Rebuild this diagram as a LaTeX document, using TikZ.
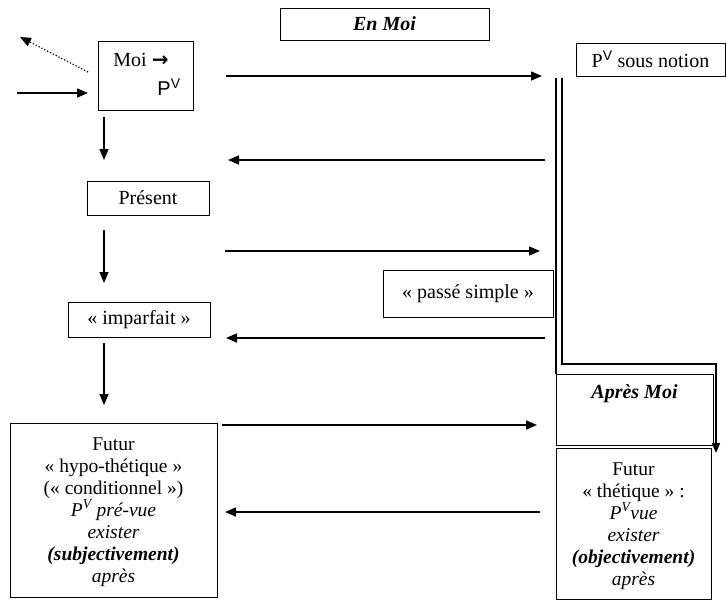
\documentclass[tikz,border=0pt]{standalone}
\usepackage{fontspec}
\setmainfont{Liberation Serif}
\newfontfamily\arrowfont{DejaVu Sans}
\newfontfamily\sansv{Liberation Sans}
\usetikzlibrary{arrows.meta}
\newcommand{\supV}{\textsuperscript{\sansv V}}
\begin{document}
\begin{tikzpicture}[x=1pt,y=-1pt,
  box/.style={draw, line width=0.8pt, inner sep=0pt},
  txt/.style={font=\fontsize{20}{24}\selectfont, inner sep=0pt},
  blocktxt/.style={font=\fontsize{19.5}{22}\selectfont, align=center, inner sep=0pt},
  arr/.style={line width=1.5pt, -{Triangle[length=11pt,width=9pt]}},
  rail/.style={line width=2pt}]
\useasboundingbox (0,0) rectangle (726,600);

% title box
\node[box, minimum width=209pt, minimum height=32pt] (enmoi) at (384.5,24)
  {\fontsize{20}{24}\selectfont\bfseries\itshape En Moi};

% the subject box and its two incoming/outgoing links
\node[box, minimum width=95pt, minimum height=69pt] (moi) at (145.5,75.5) {};
\node[txt] (moilbl) at (141,60) {Moi {\arrowfont\bfseries →}};
\node[txt] (moipv) at (169,87) {\sansv P\textsuperscript{V}};
\coordinate (dotend) at (20,37);
\coordinate (dotstart) at (88,72);
\coordinate (instart) at (17,93);
\coordinate (inend) at (88,93);
\draw[line width=1.2pt, dotted, -{Triangle[length=11pt,width=9pt]}] (dotstart) -- (dotend);
\draw[arr] (instart) -- (inend);

% notion box at the top right
\node[box, minimum width=149pt, minimum height=33pt] (notion) at (650.5,59.5)
  {\fontsize{20}{24}\selectfont P\supV\ sous notion};

% left column
\node[box, minimum width=122pt, minimum height=34pt] (present) at (148,198)
  {\fontsize{20}{24}\selectfont Présent};
\node[box, minimum width=142pt, minimum height=35pt] (imparfait) at (139,319.5)
  {\fontsize{20}{24}\selectfont « imparfait »};
\node[box, minimum width=207pt, minimum height=174pt] (hypo) at (113.5,510) {};
\node[blocktxt] (hypotxt) at (113.5,512) {Futur\\« hypo-thétique »\\(« conditionnel »)\\
  \itshape P\textsuperscript{V} pré-vue\\ \itshape exister\\ \bfseries\itshape (subjectivement)\\ \itshape après};

% vertical arrows of the left column
\coordinate (d1a) at (104,117);
\coordinate (d1b) at (104,160);
\coordinate (d2a) at (104,230);
\coordinate (d2b) at (104,283);
\coordinate (d3a) at (104,343);
\coordinate (d3b) at (104,405);
\draw[arr] (d1a) -- (d1b);
\draw[arr] (d2a) -- (d2b);
\draw[arr] (d3a) -- (d3b);

% passé simple box beside the rail
\node[box, minimum width=170pt, minimum height=47pt] (passe) at (468,293.5)
  {\fontsize{20}{24}\selectfont « passé simple »};

% right column
\node[box, minimum width=157pt, minimum height=71pt] (apres) at (634.5,409.5) {};
\node[txt] (aprestxt) at (634.5,394) {\bfseries\itshape Après Moi};
\node[box, minimum width=155pt, minimum height=151pt] (thet) at (633.5,523.5) {};
\node[blocktxt] (thettxt) at (633.5,526) {Futur\\« thétique » :\\
  \itshape P\textsuperscript{V}vue\\ \itshape exister\\ \bfseries\itshape (objectivement)\\ \itshape après};

% the double rail and its bend into the lower box
\coordinate (railLtop) at (556,78);
\coordinate (railLbot) at (556,374);
\coordinate (railRtop) at (562,78);
\coordinate (railRbend) at (562,364);
\coordinate (railRcorner) at (716,364);
\coordinate (railRend) at (716,453);
\draw[rail] (railLtop) -- (railLbot);
\draw[line width=1.5pt, -{Triangle[length=10pt,width=8pt]}] (railRtop) -- (railRbend) -- (railRcorner) -- (railRend);

% horizontal exchanges between the columns and the rail
\coordinate (h1a) at (226,76);
\coordinate (h1b) at (542,76);
\coordinate (h2a) at (545,160);
\coordinate (h2b) at (228,160);
\coordinate (h3a) at (225,251);
\coordinate (h3b) at (540,251);
\coordinate (h4a) at (545,338);
\coordinate (h4b) at (226,338);
\coordinate (h5a) at (222,425);
\coordinate (h5b) at (537,425);
\coordinate (h6a) at (540,512);
\coordinate (h6b) at (225,512);
\draw[arr] (h1a) -- (h1b);
\draw[arr] (h2a) -- (h2b);
\draw[arr] (h3a) -- (h3b);
\draw[arr] (h4a) -- (h4b);
\draw[arr] (h5a) -- (h5b);
\draw[arr] (h6a) -- (h6b);
\end{tikzpicture}
\end{document}
